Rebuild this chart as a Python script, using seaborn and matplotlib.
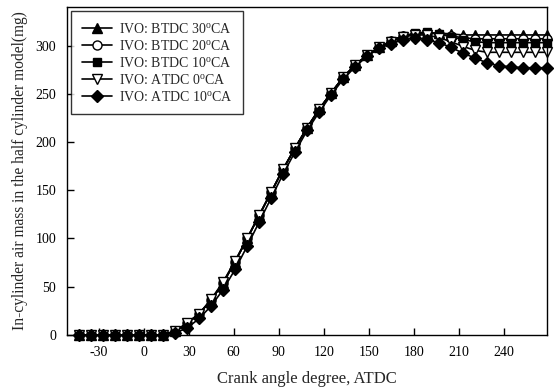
import numpy as np
import pandas as pd
import matplotlib
matplotlib.use("Agg")
import matplotlib.pyplot as plt
import seaborn as sns

crank = [-43, -35, -27, -19, -11, -3, 5, 13, 21, 29, 37, 45, 53, 61, 69, 77, 85, 93,
         101, 109, 117, 125, 133, 141, 149, 157, 165, 173, 181, 189, 197, 205, 213,
         221, 229, 237, 245, 253, 261, 269]

btdc30 = [0, 0, 0, 0, 0, 0, 0, 0, 4, 12, 22, 36, 54, 76, 100, 124, 148, 172,
          194, 215, 234, 251, 267, 280, 290, 298, 305, 310, 312, 313, 313, 312, 311,
          311, 311, 311, 311, 311, 311, 311]
btdc20 = [0, 0, 0, 0, 0, 0, 0, 0, 4, 12, 22, 36, 54, 76, 100, 124, 148, 172,
          194, 215, 234, 251, 267, 280, 290, 298, 305, 310, 312, 313, 312, 310, 308,
          307, 307, 307, 307, 307, 307, 307]
btdc10 = [0, 0, 0, 0, 0, 0, 0, 0, 4, 12, 22, 36, 54, 76, 100, 124, 148, 172,
          194, 215, 234, 251, 267, 280, 290, 298, 305, 310, 313, 314, 312, 309, 306,
          304, 303, 303, 303, 303, 303, 303]
atdc0 = [0, 0, 0, 0, 0, 0, 0, 0, 4, 12, 22, 37, 55, 77, 100, 124, 148, 172,
         194, 215, 234, 251, 267, 280, 290, 298, 304, 309, 311, 311, 308, 304, 299,
         295, 293, 293, 293, 293, 293, 293]
atdc10 = [0, 0, 0, 0, 0, 0, 0, 0, 2, 7, 17, 30, 47, 68, 92, 117, 142, 167,
          190, 212, 231, 249, 265, 278, 289, 297, 302, 306, 308, 306, 303, 298, 292,
          287, 282, 279, 278, 277, 277, 277]

labels = [r"IVO: BTDC 30$^{\rm o}$CA", r"IVO: BTDC 20$^{\rm o}$CA",
          r"IVO: BTDC 10$^{\rm o}$CA", r"IVO: ATDC 0$^{\rm o}$CA",
          r"IVO: ATDC 10$^{\rm o}$CA"]
series = [btdc30, btdc20, btdc10, atdc0, atdc10]
markers = ["^", "o", "s", "v", "D"]
faces = ["black", "white", "black", "white", "black"]
sizes = [6.5, 6.5, 6, 6.5, 6]

xticks = [-30, 0, 30, 60, 90, 120, 150, 180, 210, 240]
yticks = [0, 50, 100, 150, 200, 250, 300]

sns.set_theme(style="ticks")
plt.rcParams["font.family"] = ["Liberation Serif", "DejaVu Serif"]
plt.rcParams["mathtext.fontset"] = "custom"
plt.rcParams["mathtext.rm"] = "Liberation Serif"
plt.rcParams["mathtext.it"] = "Liberation Serif:italic"
plt.rcParams["axes.unicode_minus"] = False

fig = plt.figure(figsize=(5.55, 3.88), dpi=100)
ax = fig.add_axes([0.121, 0.137, 0.865, 0.845])

for vals, lab, m, fc, ms in zip(series, labels, markers, faces, sizes):
    df = pd.DataFrame({"x": crank, "y": vals})
    sns.lineplot(data=df, x="x", y="y", ax=ax, color="black", linewidth=1.2,
                 marker=m, markersize=ms, markerfacecolor=fc,
                 markeredgecolor="black", markeredgewidth=1.0, label=lab,
                 clip_on=False)

ax.set_xlim(-51, 269)
ax.set_ylim(0, 340)
ax.set_xticks(xticks)
ax.set_yticks(yticks)
ax.tick_params(direction="in", length=5, width=1, labelsize=10, colors="black", pad=8)
for s in ax.spines.values():
    s.set_visible(True)
    s.set_color("black")
    s.set_linewidth(1.0)
ax.set_xlabel("Crank angle degree, ATDC", fontsize=12, labelpad=9)
ax.set_ylabel("In-cylinder air mass in the half cylinder model(mg)", fontsize=11.2, labelpad=5)

leg = ax.legend(loc="upper left", bbox_to_anchor=(0.0, 1.0), borderaxespad=0.3,
                fontsize=10, frameon=True, fancybox=False, edgecolor="black",
                handlelength=2.2, borderpad=0.75, labelspacing=0.22,
                handletextpad=0.5)
leg.get_frame().set_linewidth(1.0)

fig.savefig("out.png", dpi=100)
